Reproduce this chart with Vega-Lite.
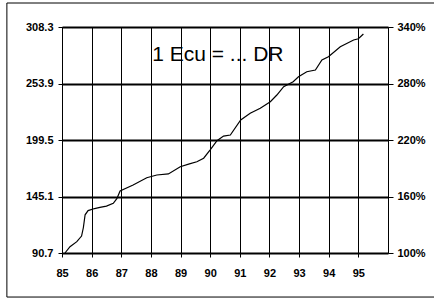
{
  "$schema": "https://vega.github.io/schema/vega-lite/v6.json",
  "width": 326,
  "height": 226,
  "autosize": {"type": "none"},
  "padding": {"left": 62, "top": 27, "right": 46, "bottom": 47},
  "background": "white",
  "config": {
    "view": {"stroke": "black", "strokeWidth": 1},
    "font": "Liberation Sans",
    "axis": {"labelFont": "Liberation Sans", "labelFontSize": 11, "labelFontWeight": "bold", "labelColor": "black", "tickColor": "black", "domain": false, "title": null, "labelOverlap": false}
  },
  "datasets": {
    "rate": [
      {"t": 85.1, "v": 90.7},
      {"t": 85.27, "v": 96.8},
      {"t": 85.5, "v": 101.6},
      {"t": 85.66, "v": 107},
      {"t": 85.72, "v": 115},
      {"t": 85.78, "v": 127.5},
      {"t": 85.88, "v": 131.5},
      {"t": 86.1, "v": 133.5},
      {"t": 86.28, "v": 134.7},
      {"t": 86.5, "v": 135.8},
      {"t": 86.73, "v": 138.5},
      {"t": 86.85, "v": 143},
      {"t": 86.96, "v": 150.4},
      {"t": 87.4, "v": 156.2},
      {"t": 87.86, "v": 163.2},
      {"t": 88.2, "v": 165.8},
      {"t": 88.59, "v": 166.8},
      {"t": 88.99, "v": 173.8},
      {"t": 89.3, "v": 176.5},
      {"t": 89.55, "v": 178.6},
      {"t": 89.78, "v": 182},
      {"t": 90.0, "v": 189.9},
      {"t": 90.23, "v": 198.8},
      {"t": 90.45, "v": 203.3},
      {"t": 90.68, "v": 204.3},
      {"t": 91.03, "v": 218.8},
      {"t": 91.35, "v": 225.2},
      {"t": 91.69, "v": 230},
      {"t": 92.03, "v": 236.4},
      {"t": 92.25, "v": 242.8},
      {"t": 92.48, "v": 250.8},
      {"t": 92.8, "v": 255.6},
      {"t": 92.98, "v": 260.4},
      {"t": 93.26, "v": 265.2},
      {"t": 93.55, "v": 266.9},
      {"t": 93.77, "v": 276.5},
      {"t": 93.99, "v": 279.7},
      {"t": 94.39, "v": 289.3},
      {"t": 94.84, "v": 295.8},
      {"t": 95.0, "v": 297},
      {"t": 95.17, "v": 301.5}
    ],
    "label": [{"t": 90.26, "v": 280.9, "text": "1 Ecu = ... DR"}],
    "frame": [{"x1": 83.14, "x2": 97.9, "y1": 331.4, "y2": 48.3}]
  },
  "layer": [
    {
      "layer": [
        {
          "data": {"name": "rate"},
          "mark": {"type": "line", "color": "black", "strokeWidth": 1.2},
          "encoding": {
            "x": {"field": "t", "type": "quantitative",
              "scale": {"domain": [85, 96], "nice": false, "zero": false},
              "axis": {"values": [85, 86, 87, 88, 89, 90, 91, 92, 93, 94, 95], "format": "d", "labelOverlap": false, "labelFlush": false, "grid": true, "gridColor": "black", "gridOpacity": 1, "gridWidth": 1, "tickSize": 4, "labelPadding": 10}},
            "y": {"field": "v", "type": "quantitative",
              "scale": {"domain": [90.7, 308.3], "nice": false, "zero": false},
              "axis": {"values": [90.7, 145.1, 199.5, 253.9, 308.3], "format": ".1f", "labelOverlap": false, "grid": true, "gridColor": "black", "gridOpacity": 1, "gridWidth": 2, "tickSize": 4, "labelPadding": 5}}
          }
        },
        {
          "data": {"name": "label"},
          "mark": {"type": "text", "font": "Liberation Sans", "fontSize": 21, "color": "black", "align": "center", "baseline": "middle"},
          "encoding": {
            "x": {"field": "t", "type": "quantitative",
              "axis": {"values": [85, 86, 87, 88, 89, 90, 91, 92, 93, 94, 95], "format": "d", "labelOverlap": false, "labelFlush": false, "grid": true, "gridColor": "black", "gridOpacity": 1, "gridWidth": 1, "tickSize": 4, "labelPadding": 10}},
            "y": {"field": "v", "type": "quantitative",
              "axis": {"values": [90.7, 145.1, 199.5, 253.9, 308.3], "format": ".1f", "labelOverlap": false, "grid": true, "gridColor": "black", "gridOpacity": 1, "gridWidth": 2, "tickSize": 4, "labelPadding": 5}},
            "text": {"field": "text"}
          }
        },
        {
          "data": {"name": "frame"},
          "mark": {"type": "rect", "fill": "white", "fillOpacity": 0, "stroke": "black", "strokeWidth": 1, "clip": false},
          "encoding": {
            "x": {"field": "x1", "type": "quantitative",
              "axis": {"values": [85, 86, 87, 88, 89, 90, 91, 92, 93, 94, 95], "format": "d", "labelOverlap": false, "labelFlush": false, "grid": true, "gridColor": "black", "gridOpacity": 1, "gridWidth": 1, "tickSize": 4, "labelPadding": 10}},
            "x2": {"field": "x2"},
            "y": {"field": "y1", "type": "quantitative",
              "axis": {"values": [90.7, 145.1, 199.5, 253.9, 308.3], "format": ".1f", "labelOverlap": false, "grid": true, "gridColor": "black", "gridOpacity": 1, "gridWidth": 2, "tickSize": 4, "labelPadding": 5}},
            "y2": {"field": "y2"}
          }
        }
      ]
    },
    {
      "mark": {"type": "rule", "opacity": 0},
      "encoding": {
        "y": {"datum": 1, "type": "quantitative",
          "scale": {"domain": [1, 3.4], "nice": false, "zero": false},
          "axis": {"orient": "right", "values": [1, 1.6, 2.2, 2.8, 3.4], "format": ".0%", "labelOverlap": false, "grid": false, "tickSize": 5, "labelPadding": 4}}
      }
    }
  ],
  "resolve": {"scale": {"y": "independent"}, "axis": {"y": "independent"}}
}
